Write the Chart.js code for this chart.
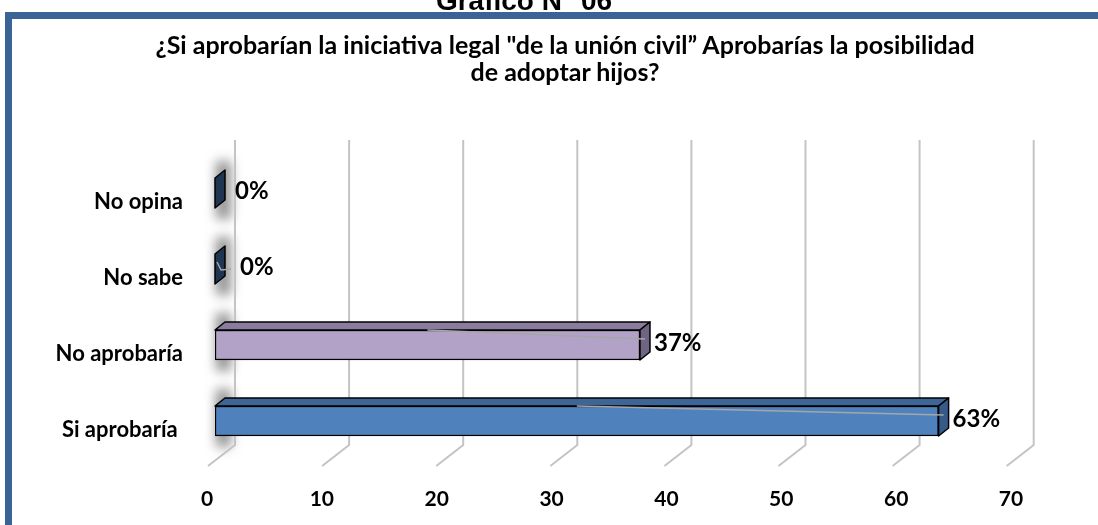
<!DOCTYPE html>
<html>
<head>
<meta charset="utf-8">
<script src="https://cdn.jsdelivr.net/npm/chart.js@4.4.1/dist/chart.umd.min.js"></script>
<style>
body{margin:0;background:#fff;}
#wrap{position:relative;width:1098px;height:525px;overflow:hidden;background:#fff;}
#wrap canvas{position:absolute;left:0;top:0;}
.band{position:absolute;background:#3A6496;z-index:2;}
#num{position:absolute;left:324px;width:400px;top:-13px;text-align:center;font:bold 28px "Liberation Sans",Arial,sans-serif;line-height:28px;color:#000;z-index:3;}
#title{position:absolute;left:65px;width:1000px;top:31px;text-align:center;font:bold 25px Lato,sans-serif;line-height:27px;color:#000;z-index:3;}
</style>
</head>
<body>
<div id="wrap">
<canvas id="chart"></canvas>
<div id="num">Gráfico N° 06</div>
<div class="band" style="left:5px;top:12px;width:1093px;height:7px;"></div>
<div class="band" style="left:5px;top:12px;width:7px;height:513px;"></div>
<div id="title">¿Si aprobarían la iniciativa legal "de la unión civil” Aprobarías la posibilidad<br>de adoptar hijos?</div>
</div>
<script>
const categories = ["No opina", "No sabe", "No aprobaría", "Si aprobaría "];
const values = [0, 0, 37, 63];
const tickMin = 0;
const tickMax = 70;
const tickStep = 10;

const frontColors = ["#243F60", "#243F60", "#B3A2C7", "#4F81BD"];
const topColors = ["#2B4668", "#2B4668", "#8A7C9E", "#3D6595"];
const sideColors = ["#1F3552", "#1F3552", "#6F6482", "#365B89"];

const DX = 10, DY = -8;

const threeD = {
  id: "threeD",
  beforeDatasetsDraw(chart) {
    const ctx = chart.ctx;
    const xs = chart.scales.x;
    const area = chart.chartArea;
    const meta = chart.getDatasetMeta(0);

    // shadows on the left wall
    ctx.save();
    ctx.filter = "blur(6px)";
    ctx.fillStyle = "rgba(70,70,70,0.6)";
    meta.data.forEach(bar => {
      ctx.fillRect(area.left + 1, bar.y - 32, 15, 58);
    });
    ctx.restore();

    // back wall gridlines and floor lines
    ctx.save();
    ctx.strokeStyle = "#C4C4C4";
    ctx.lineWidth = 2;
    xs.ticks.forEach(t => {
      const px = xs.getPixelForValue(t.value);
      const bx = px + 20 - (px - area.left) * 0.0066;
      ctx.beginPath();
      ctx.moveTo(bx, 140);
      ctx.lineTo(bx, 445);
      ctx.lineTo(bx - 27, 466);
      ctx.stroke();
    });
    ctx.restore();
  },
  afterDatasetsDraw(chart) {
    const ctx = chart.ctx;
    const meta = chart.getDatasetMeta(0);
    ctx.save();
    ctx.lineJoin = "round";
    ctx.lineWidth = 1.5;
    ctx.strokeStyle = "#000";
    meta.data.forEach((bar, i) => {
      const p = bar.getProps(["x", "y", "base", "height"], true);
      const top = p.y - p.height / 2;
      const bottom = p.y + p.height / 2;
      const x = Math.max(p.x, p.base);
      const b = p.base;
      // top face
      if (x > b) {
        ctx.fillStyle = topColors[i];
        ctx.beginPath();
        ctx.moveTo(b, top);
        ctx.lineTo(x, top);
        ctx.lineTo(x + DX, top + DY);
        ctx.lineTo(b + DX, top + DY);
        ctx.closePath();
        ctx.fill();
        ctx.stroke();
      }
      // side face
      ctx.fillStyle = sideColors[i];
      ctx.beginPath();
      ctx.moveTo(x, top);
      ctx.lineTo(x + DX, top + DY);
      ctx.lineTo(x + DX, bottom + DY);
      ctx.lineTo(x, bottom);
      ctx.closePath();
      ctx.fill();
      ctx.stroke();

      // leader line
      ctx.save();
      ctx.strokeStyle = "#A6A6A6";
      ctx.lineWidth = 1.5;
      ctx.beginPath();
      if (x > b) {
        ctx.moveTo(b + (x - b) / 2, top);
        ctx.lineTo(x + 5, top + 9);
      } else if (i === 1) {
        ctx.moveTo(x + 2, p.y - 7);
        ctx.lineTo(x + 6, p.y + 1);
        ctx.lineTo(x + 16, p.y);
      }
      ctx.stroke();
      ctx.restore();

      // data label
      ctx.fillStyle = "#000";
      ctx.font = "bold 24px Lato, sans-serif";
      ctx.textAlign = "left";
      ctx.textBaseline = "middle";
      const off = values[i] === 0 ? (i === 1 ? 25 : 20) : 14;
      ctx.fillText(values[i] + "%", x + off, p.y - 2);
    });
    ctx.restore();
  }
};

new Chart(document.getElementById("chart"), {
  type: "bar",
  data: {
    labels: categories,
    datasets: [{
      data: values,
      backgroundColor: frontColors,
      borderColor: "#000",
      borderWidth: 1.5,
      borderSkipped: false,
      barThickness: 30
    }]
  },
  options: {
    indexAxis: "y",
    responsive: true,
    maintainAspectRatio: false,
    animation: false,
    layout: { padding: { top: 155, right: 79, bottom: 0, left: 0 } },
    plugins: { legend: { display: false }, tooltip: { enabled: false }, title: { display: false } },
    scales: {
      x: {
        min: tickMin,
        max: tickMax,
        grid: { display: false, drawTicks: false },
        border: { display: false },
        ticks: {
          stepSize: tickStep,
          color: "#000",
          font: { family: "Lato", weight: "bold", size: 21 },
          padding: 28,
          labelOffset: -8
        },
        afterFit: s => { s.height = 66; }
      },
      y: {
        grid: { display: false, drawTicks: false },
        border: { display: false },
        ticks: {
          color: "#000",
          font: { family: "Lato", weight: "bold", size: 22 },
          padding: 32,
          labelOffset: 9
        },
        afterFit: s => { s.width = 215; }
      }
    }
  },
  plugins: [threeD]
});
</script>
</body>
</html>
